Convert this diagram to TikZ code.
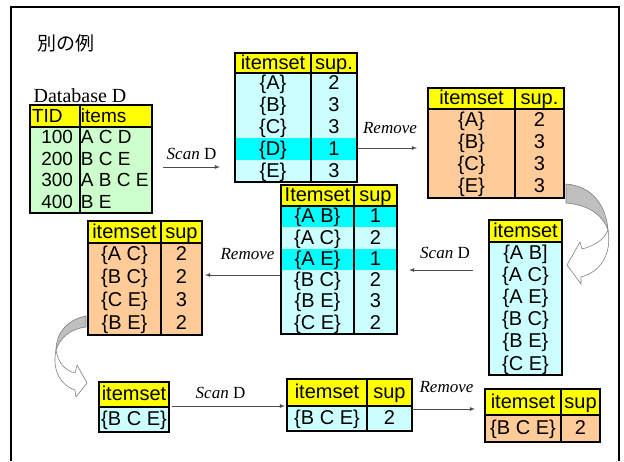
\documentclass[tikz,border=0pt]{standalone}
\usepackage{fontspec}
\setmainfont{Liberation Serif}
\setsansfont{Liberation Sans}
\newfontfamily\jpfont{Noto Sans CJK JP}
\usepackage{tikz}
\usetikzlibrary{arrows,matrix,positioning}
\definecolor{hdryellow}{RGB}{255,255,0}
\definecolor{dbgreen}{RGB}{204,255,204}
\definecolor{candcyan}{RGB}{204,255,255}
\definecolor{lowcyan}{RGB}{0,255,255}
\definecolor{freqpeach}{RGB}{255,204,153}
% outer frame, header line and column line of a table
\newcommand{\tablebox}[3]{%
  \draw[tline] (#1.north west) rectangle (#1.south east);
  \draw[tline] (#1-1-1.south west) -- (#1-1-#3.south east);
  \ifnum#3>1 \draw[tline] (#1-1-1.north east) -- (#1-#2-1.south east);\fi}

\begin{document}
\begin{tikzpicture}[x=1pt,y=-1pt,
    tbl/.style={matrix of nodes, anchor=north west, inner sep=0pt, outer sep=0pt,
      nodes={anchor=center, inner sep=0pt, outer sep=0pt, text height=15pt, text depth=3pt,
        font=\fontsize{20}{22}\selectfont\sffamily},
      row 1/.style={nodes={fill=hdryellow}}},
    tline/.style={line width=1.6pt},
    flow/.style={-latex, draw=gray!60!black, line width=0.8pt},
    lbl/.style={font=\fontsize{17}{19}\selectfont, inner sep=2pt},
    curlback/.style={draw=gray, fill=gray!50, line width=0.6pt},
    curlfront/.style={draw=gray, fill=white, line width=0.6pt}]
  \useasboundingbox (0,0) rectangle (624,461);
  %% frame
  \draw[line width=2pt] (11,461) -- (11,7) -- (619,7) -- (619,461);
  \node[font=\jpfont\fontsize{19}{21}\selectfont] (title) at (66,43) {別の例};
  \node[font=\fontsize{20}{22}\selectfont] (dblabel) at (80,96) {Database D};

  \matrix[tbl, nodes={fill=dbgreen, minimum height=21.5pt, font=\fontsize{19}{21}\selectfont\sffamily},
    row 1/.append style={nodes={minimum height=22pt}},
    column 1/.style={nodes={text width=36pt, inner xsep=7pt, align=flush right}},
    column 2/.style={nodes={text width=70pt, inner xsep=1pt, align=flush left}}] (db) at (30,105) {
    |[align=flush left, text width=46pt, inner xsep=2pt]| TID & items \\
    100 & A C D \\
    200 & B C E \\
    300 & A B C E \\
    400 & B E \\
  };
  \tablebox{db}{5}{2}

  \matrix[tbl, nodes={fill=candcyan, minimum height=21.8pt},
    row 1/.append style={nodes={minimum height=20pt}},
    row 5/.style={nodes={fill=lowcyan}},
    column 1/.style={nodes={minimum width=76pt}},
    column 2/.style={nodes={minimum width=46pt}}] (cand1) at (235,53) {
    itemset & sup. \\
    \{A\} & 2 \\
    \{B\} & 3 \\
    \{C\} & 3 \\
    \{D\} & 1 \\
    \{E\} & 3 \\
  };
  \tablebox{cand1}{6}{2}

  \matrix[tbl, nodes={fill=freqpeach, minimum height=22.25pt},
    row 1/.append style={nodes={minimum height=21pt}},
    column 1/.style={nodes={minimum width=87pt}},
    column 2/.style={nodes={minimum width=49pt}}] (freq1) at (428,88) {
    itemset & sup. \\
    \{A\} & 2 \\
    \{B\} & 3 \\
    \{C\} & 3 \\
    \{E\} & 3 \\
  };
  \tablebox{freq1}{5}{2}

  \matrix[tbl, nodes={fill=candcyan, minimum height=22.2pt, minimum width=73pt},
    row 1/.append style={nodes={minimum height=22pt}}] (gen2) at (489,220) {
    itemset \\
    \{A B] \\
    \{A C\} \\
    \{A E\} \\
    \{B C\} \\
    \{B E\} \\
    \{C E\} \\
  };
  \tablebox{gen2}{7}{1}

  \matrix[tbl, nodes={fill=candcyan, minimum height=21.33pt},
    row 1/.append style={nodes={minimum height=21pt}},
    row 2/.style={nodes={fill=lowcyan}},
    row 4/.style={nodes={fill=lowcyan}},
    column 1/.style={nodes={minimum width=73pt}},
    column 2/.style={nodes={minimum width=43pt}}] (cand2) at (281,185) {
    Itemset & sup \\
    \{A B\} & 1 \\
    \{A C\} & 2 \\
    \{A E\} & 1 \\
    \{B C\} & 2 \\
    \{B E\} & 3 \\
    \{C E\} & 2 \\
  };
  \tablebox{cand2}{7}{2}

  \matrix[tbl, nodes={fill=freqpeach, minimum height=23pt},
    row 1/.append style={nodes={minimum height=22pt}},
    column 1/.style={nodes={minimum width=73pt}},
    column 2/.style={nodes={minimum width=41pt}}] (freq2) at (88,221) {
    itemset & sup \\
    \{A C\} & 2 \\
    \{B C\} & 2 \\
    \{C E\} & 3 \\
    \{B E\} & 2 \\
  };
  \tablebox{freq2}{5}{2}

  \matrix[tbl, nodes={fill=candcyan, minimum height=25pt, minimum width=70pt}] (gen3) at (99,382) {
    itemset \\
    \{B C E\} \\
  };
  \tablebox{gen3}{2}{1}

  \matrix[tbl, nodes={fill=candcyan, minimum height=25pt},
    row 1/.append style={nodes={minimum height=27pt}},
    column 1/.style={nodes={minimum width=80pt}},
    column 2/.style={nodes={minimum width=45pt}}] (cand3) at (287,379) {
    itemset & sup \\
    \{B C E\} & 2 \\
  };
  \tablebox{cand3}{2}{2}

  \matrix[tbl, nodes={fill=freqpeach, minimum height=27pt},
    row 1/.append style={nodes={minimum height=26pt}},
    column 1/.style={nodes={minimum width=76pt}},
    column 2/.style={nodes={minimum width=39pt}}] (freq3) at (485,389) {
    itemset & sup \\
    \{B C E\} & 2 \\
  };
  \tablebox{freq3}{2}{2}

  %% straight arrows
  \coordinate (s1a) at (163,167); \coordinate (s1b) at (220,167);
  \coordinate (r1a) at (357,148); \coordinate (r1b) at (417,148);
  \coordinate (s2a) at (473,270); \coordinate (s2b) at (409,270);
  \coordinate (r2a) at (280,275); \coordinate (r2b) at (205,275);
  \coordinate (s3a) at (172,406); \coordinate (s3b) at (285,406);
  \coordinate (r3a) at (412,409); \coordinate (r3b) at (475,409);
  \draw[flow] (s1a) -- node[lbl, above=5pt] {\textit{Scan} D} (s1b);
  \draw[flow] (r1a) -- node[lbl, above=12pt, xshift=3pt] {\textit{Remove}} (r1b);
  \draw[flow] (s2a) -- node[lbl, above=9pt, xshift=4pt] {\textit{Scan} D} (s2b);
  \draw[flow] (r2a) -- node[lbl, above=13pt, xshift=5pt] {\textit{Remove}} (r2b);
  \draw[flow] (s3a) -- node[lbl, above=5pt, xshift=-8pt] {\textit{Scan} D} (s3b);
  \draw[flow] (r3a) -- node[lbl, above=14pt, xshift=3pt] {\textit{Remove}} (r3b);

  %% curved block arrows
  \draw[curlback] (566,184) .. controls (592,186) and (606,205) .. (608,230)
    .. controls (602,214) and (588,205) .. (566,203) -- cycle;
  \draw[curlfront] (608,230) .. controls (604,240) and (594,246) .. (582,249)
    -- (580,242) -- (567,265) -- (581,284) -- (581,277)
    .. controls (600,272) and (612,255) .. (608,230) -- cycle;
  \draw[curlback] (86,316) .. controls (66,320) and (56,334) .. (56,350)
    .. controls (60,338) and (70,329) .. (86,327) -- cycle;
  \draw[curlfront] (56,350) .. controls (58,362) and (64,370) .. (75,373)
    -- (77,365) -- (87,383) -- (76,397) -- (75,390)
    .. controls (60,385) and (52,370) .. (56,350) -- cycle;
\end{tikzpicture}
\end{document}
